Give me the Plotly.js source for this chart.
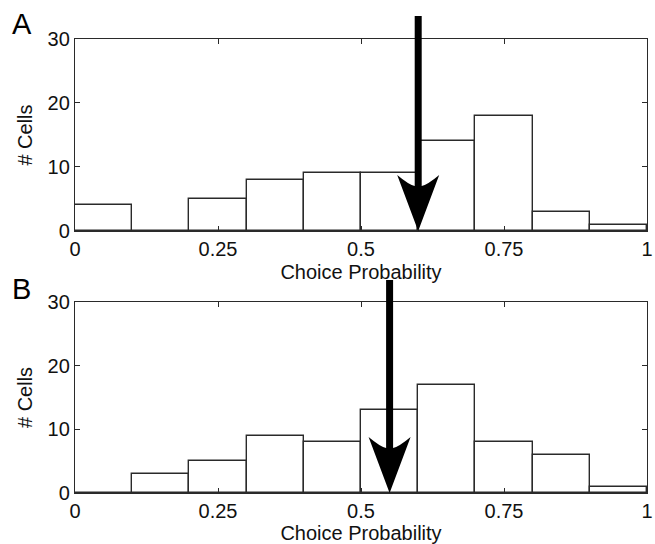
<!DOCTYPE html>
<html>
<head>
<meta charset="utf-8">
<script src="https://cdn.plot.ly/plotly-3.0.1.min.js"></script>
<style>html,body{margin:0;padding:0;background:#fff;}#chart{width:655px;height:544px;}</style>
</head>
<body>
<div id="chart"></div>
<script>
// Data
var binCenters = [0.05, 0.15, 0.25, 0.35, 0.45, 0.55, 0.65, 0.75, 0.85, 0.95];
var countsA = [4, 0, 5, 8, 9, 9, 14, 18, 3, 1];
var countsB = [0, 3, 5, 9, 8, 13, 17, 8, 6, 1];
var arrowA = 0.6;   // marked choice probability, panel A
var arrowB = 0.55;  // marked choice probability, panel B
var xTickVals = [0, 0.25, 0.5, 0.75, 1];
var xTickText = ['0', '0.25', '0.5', '0.75', '1'];
var yTickVals = [0, 10, 20, 30];
var panelLabels = ['A', 'B'];
var xTitle = 'Choice Probability';
var yTitle = '# Cells';

var fam = 'Liberation Sans, Arial, sans-serif';
var font = {family: fam, size: 20, color: '#111'};
var lineCol = '#2a2a2a';

function barTrace(y, xa, ya) {
  return {
    type: 'bar', x: binCenters, y: y, width: 0.1, xaxis: xa, yaxis: ya,
    marker: {color: '#fff', line: {color: lineCol, width: 1.4}},
    showlegend: false, hoverinfo: 'skip'
  };
}
function xAxis(domainAnchor) {
  return {
    domain: [0, 1], anchor: domainAnchor, range: [0, 1],
    tickmode: 'array', tickvals: xTickVals, ticktext: xTickText,
    ticks: 'inside', ticklen: 5, tickcolor: lineCol, tickwidth: 1.4, mirror: 'allticks',
    showline: true, linecolor: lineCol, linewidth: 1.4,
    showgrid: false, zeroline: false, tickfont: font,
    title: {text: xTitle, font: font, standoff: 5}
  };
}
function yAxis(domain, anchor) {
  return {
    domain: domain, anchor: anchor, range: [0, 30],
    tickmode: 'array', tickvals: yTickVals, ticks: 'inside', ticklen: 5, tickcolor: lineCol, tickwidth: 1.4,
    mirror: 'allticks',
    showline: true, linecolor: lineCol, linewidth: 1.4,
    showgrid: false, zeroline: false, tickfont: font,
    title: {text: yTitle, font: font, standoff: 9}
  };
}
// Arrow outline in pixels relative to its tip
function arrowPath(len) {
  return 'M0,0 L-21,56 Q-9,46 -3.5,45 L-3.5,' + len + ' L3.5,' + len +
         ' L3.5,45 Q9,46 21,56 Z';
}
var layout = {
  width: 655, height: 544,
  margin: {l: 75, r: 8, t: 0, b: 0},
  paper_bgcolor: '#fff', plot_bgcolor: '#fff',
  font: font, bargap: 0,
  xaxis: xAxis('y'),
  yaxis: yAxis([0.5754, 0.9283], 'x'),
  xaxis2: xAxis('y2'),
  yaxis2: yAxis([0.0938, 0.4449], 'x2'),
  shapes: [
    {type: 'path', xref: 'x', yref: 'y domain', xsizemode: 'pixel', ysizemode: 'pixel',
     xanchor: arrowA, yanchor: 0, path: arrowPath(215), fillcolor: '#000', line: {width: 0}, layer: 'above'},
    {type: 'path', xref: 'x2', yref: 'y2 domain', xsizemode: 'pixel', ysizemode: 'pixel',
     xanchor: arrowB, yanchor: 0, path: arrowPath(213), fillcolor: '#000', line: {width: 0}, layer: 'above'}
  ],
  annotations: [
    {text: panelLabels[0], xref: 'paper', yref: 'paper', x: -0.113, y: 0.955, xanchor: 'left', yanchor: 'middle',
     showarrow: false, font: {family: fam, size: 29, color: '#000'}},
    {text: panelLabels[1], xref: 'paper', yref: 'paper', x: -0.113, y: 0.468, xanchor: 'left', yanchor: 'middle',
     showarrow: false, font: {family: fam, size: 29, color: '#000'}}
  ]
};
Plotly.newPlot('chart', [barTrace(countsA, 'x', 'y'), barTrace(countsB, 'x2', 'y2')], layout, {displayModeBar: false});
</script>
</body>
</html>
